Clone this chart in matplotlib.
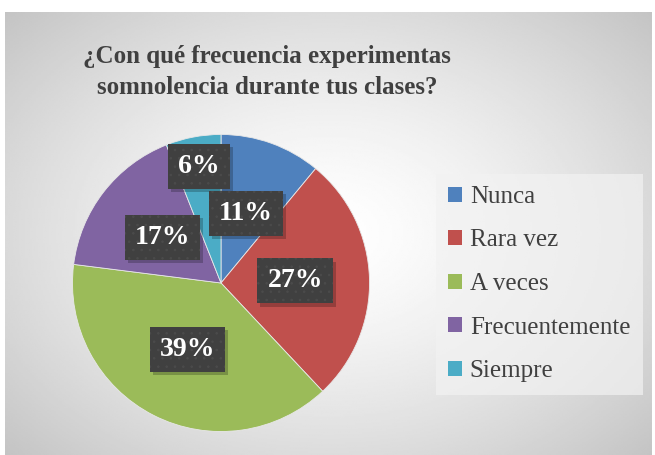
import numpy as np
import matplotlib.pyplot as plt
from matplotlib.patches import Patch, Rectangle

# datos
categorias = ["Nunca", "Rara vez", "A veces", "Frecuentemente", "Siempre"]
porcentajes = [11, 27, 39, 17, 6]
colores = ["#4F81BD", "#C0504D", "#9BBB59", "#8064A2", "#4BACC6"]
titulo = "¿Con qué frecuencia experimentas\nsomnolencia durante tus clases?"

fuente = "Liberation Serif"
gris = "#404040"

fig = plt.figure(figsize=(6.55, 4.55), dpi=100)

# fondo con degradado radial
bg = fig.add_axes([5 / 655, 0, 647 / 655, 443 / 455])
yy, xx = np.mgrid[-1:1:300j, -1:1:300j]
r = np.sqrt(xx ** 2 + (yy * 0.95) ** 2) / np.sqrt(2)
shade = 1 - 0.24 * r ** 1.4
bg.imshow(shade, cmap="gray", vmin=0, vmax=1, extent=[0, 1, 0, 1], aspect="auto")
bg.axis("off")

# pastel
ax = fig.add_axes([71 / 655, 22 / 455, 300 / 655, 300 / 455])
wedges, texts, autotexts = ax.pie(
    porcentajes, colors=colores, startangle=90, counterclock=False,
    autopct="%.0f%%", pctdistance=0.5,
    wedgeprops=dict(edgecolor="#e8e8e8", linewidth=0.6))
ax.set_xlim(-1.01, 1.01)
ax.set_ylim(-1.01, 1.01)
ax.set_aspect("equal")

# la etiqueta pequeña va mas afuera
x, y = autotexts[-1].get_position()
autotexts[-1].set_position((x * 1.6, y * 1.6))

plt.rcParams["hatch.linewidth"] = 0.6
for t in autotexts:
    t.set_color("white")
    t.set_fontsize(20)
    t.set_fontweight("bold")
    t.set_family(fuente)
    t.set_zorder(5)
    t.set_bbox(dict(boxstyle="square,pad=0.36", facecolor="#404040",
                    edgecolor="#4b4b4b", linewidth=0, hatch=".."))

fig.text(267 / 655, 1 - 72 / 455, titulo, ha="center", va="center",
         fontsize=18, fontweight="bold", color=gris, family=fuente,
         linespacing=1.45)

handles = [Patch(facecolor=c, edgecolor="none") for c in colores]
leg = fig.legend(handles, categorias, loc="center left",
                 bbox_to_anchor=(436 / 655, 1 - 284 / 455), borderaxespad=0,
                 frameon=True, fancybox=False, facecolor="#f2f2f2",
                 edgecolor="none", framealpha=0.7,
                 prop=dict(family=fuente, size=18), labelcolor=gris,
                 handlelength=0.55, handleheight=0.55, handletextpad=0.3,
                 labelspacing=0.86, borderpad=0.5)

# sombra suave debajo de cada caja (rectangulo en pixeles)
fig.canvas.draw()
for t in autotexts:
    bb = t.get_bbox_patch().get_window_extent()
    ax.add_patch(Rectangle((bb.x0 + 3, bb.y0 - 3.5), bb.width, bb.height,
                           transform=None, facecolor="black", edgecolor="none",
                           alpha=0.22, zorder=4))

fig.savefig("out.png", dpi=100)
